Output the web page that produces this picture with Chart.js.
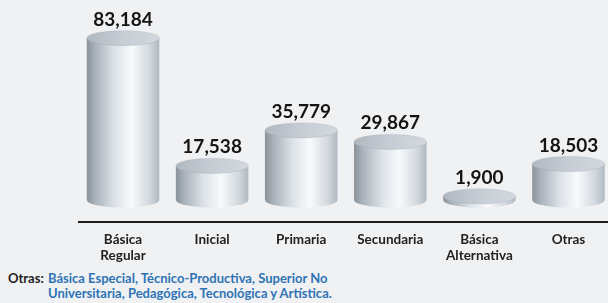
<!DOCTYPE html>
<html>
<head>
<meta charset="utf-8">
<script src="https://cdn.jsdelivr.net/npm/chart.js@4/dist/chart.umd.min.js"></script>
<style>
  html, body { margin: 0; padding: 0; background: #f0f1f3; overflow: hidden; }
  body { width: 608px; height: 303px; position: relative; font-family: Lato, "Open Sans", sans-serif; }
  #wrap { position: absolute; left: 0; top: 0; width: 613px; height: 270px; }
  #nota { position: absolute; left: 8px; top: 271px; font-weight: bold; font-size: 13px; line-height: 15px; display: flex; }
  #nota .lbl { color: #222; width: 40px; }
  #nota .txt { color: #2e74b5; }
</style>
</head>
<body>
<div id="wrap"><canvas id="grafico" width="613" height="270"></canvas></div>
<div id="nota">
  <span class="lbl">Otras:</span>
  <span class="txt">Básica Especial, Técnico-Productiva, Superior No<br>Universitaria, Pedagógica, Tecnológica y Artística.</span>
</div>
<script>
// ---- dados ----
const categorias = [['Básica', 'Regular'], 'Inicial', 'Primaria', 'Secundaria', ['Básica', 'Alternativa'], 'Otras'];
const valores = [83184, 17538, 35779, 29867, 1900, 18503];

const RY = 7.5;

function fmt(v) {
  return v.toLocaleString('en-US');
}

// ---- cilindros ----
const cilindros = {
  id: 'cilindros',
  afterDatasetsDraw(chart) {
    const ctx = chart.ctx;
    const meta = chart.getDatasetMeta(0);
    meta.data.forEach((bar, i) => {
      const { x, y, base, width } = bar.getProps(['x', 'y', 'base', 'width'], true);
      const rx = width / 2;
      const l = x - rx, r = x + rx;

      ctx.save();
      // corpo
      const g = ctx.createLinearGradient(l, 0, r, 0);
      g.addColorStop(0, '#8a929a');
      g.addColorStop(0.12, '#aab2ba');
      g.addColorStop(0.38, '#dce2e8');
      g.addColorStop(0.62, '#f8fafc');
      g.addColorStop(0.86, '#d3d9df');
      g.addColorStop(1, '#b1b9c1');
      ctx.beginPath();
      ctx.moveTo(l, y);
      ctx.lineTo(l, base);
      ctx.ellipse(x, base, rx, RY, 0, Math.PI, 0, true);
      ctx.lineTo(r, y);
      ctx.closePath();
      ctx.fillStyle = g;
      ctx.fill();

      // tampa
      const t = ctx.createLinearGradient(l, 0, r, 0);
      t.addColorStop(0, '#b0b8c0');
      t.addColorStop(0.5, '#c6cdd4');
      t.addColorStop(1, '#d2d8de');
      ctx.beginPath();
      ctx.ellipse(x, y, rx, RY, 0, 0, Math.PI * 2);
      ctx.fillStyle = t;
      ctx.fill();
      ctx.strokeStyle = 'rgba(150,160,170,0.5)';
      ctx.lineWidth = 0.6;
      ctx.stroke();

      // valor
      ctx.fillStyle = '#141414';
      ctx.font = 'bold 19px Lato, "Open Sans", sans-serif';
      ctx.textAlign = 'center';
      ctx.textBaseline = 'alphabetic';
      ctx.fillText(fmt(valores[i]), x, y - RY - 5);
      ctx.restore();
    });
  }
};

new Chart(document.getElementById('grafico').getContext('2d'), {
  type: 'bar',
  data: {
    labels: categorias,
    datasets: [{
      data: valores,
      backgroundColor: 'rgba(0,0,0,0)',
      borderWidth: 0,
      barPercentage: 0.814,
      categoryPercentage: 1
    }]
  },
  options: {
    responsive: false,
    animation: false,
    layout: { padding: { left: 78.5, right: 0, top: 21, bottom: 0 } },
    plugins: { legend: { display: false }, tooltip: { enabled: false } },
    scales: {
      x: {
        grid: { display: false, drawTicks: false },
        border: { display: true, color: '#1e1e1e', width: 2 },
        ticks: {
          color: '#222',
          padding: 10,
          font: { family: 'Lato', weight: 'bold', size: 13.5, lineHeight: 1.15 },
          maxRotation: 0,
          autoSkip: false
        },
        afterFit: s => { s.height = 48; }
      },
      y: {
        display: false,
        min: -11300,
        max: 92000
      }
    }
  },
  plugins: [cilindros]
});
</script>
</body>
</html>
